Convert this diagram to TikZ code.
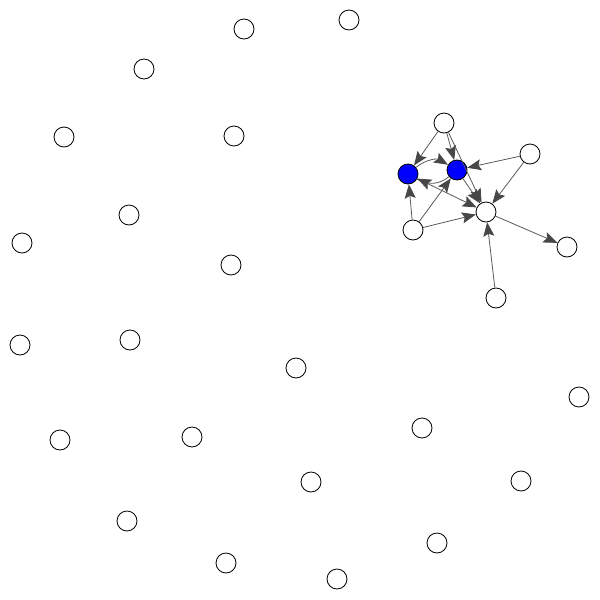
\documentclass[tikz,border=0pt]{standalone}
\usetikzlibrary{arrows.meta}
\begin{document}
\begin{tikzpicture}[x=1pt,y=-1pt,
  vtx/.style={circle,draw=black,line width=0.8pt,fill=white,minimum size=20pt,inner sep=0pt},
  bvtx/.style={vtx,fill=blue},
  tip/.tip={Stealth[length=14pt,width=11pt,inset=2.5pt,color=black!72]},
  edge/.style={draw=black!65,line width=0.8pt,-tip},
  plain/.style={draw=black!65,line width=0.8pt}]
\useasboundingbox (0,0) rectangle (600,600);
% isolated vertices
\node[vtx] (i1) at (349,20) {};
\node[vtx] (i2) at (244,29) {};
\node[vtx] (i3) at (144,69) {};
\node[vtx] (i4) at (64,137) {};
\node[vtx] (i5) at (234,136) {};
\node[vtx] (i6) at (129,215) {};
\node[vtx] (i7) at (22,243) {};
\node[vtx] (i8) at (231,265) {};
\node[vtx] (i9) at (20,345) {};
\node[vtx] (i10) at (130,340) {};
\node[vtx] (i11) at (296,368) {};
\node[vtx] (i12) at (579,397) {};
\node[vtx] (i13) at (60,440) {};
\node[vtx] (i14) at (192,437) {};
\node[vtx] (i15) at (422,428) {};
\node[vtx] (i16) at (311,482) {};
\node[vtx] (i17) at (521,481) {};
\node[vtx] (i18) at (127,521) {};
\node[vtx] (i19) at (437,543) {};
\node[vtx] (i20) at (226,563) {};
\node[vtx] (i21) at (337,579) {};
% cluster
\node[vtx] (T) at (444,123) {};
\node[bvtx] (L) at (408,174) {};
\node[bvtx] (R) at (457,170) {};
\node[vtx] (Q) at (530,154) {};
\node[vtx] (C) at (486,212) {};
\node[vtx] (W) at (413,230) {};
\node[vtx] (F) at (567,247) {};
\node[vtx] (B) at (496,298) {};
% edges
\draw[edge] (T) -- (L);
\draw[edge] (T) -- (R);
\draw[edge] (T) -- (C);
\draw[edge] (L) to[bend left=35] (R);
\draw[plain] (R) to[bend left=35] (L);
\draw[edge] (R) -- (C);
\draw[edge,tip-tip] (L) -- (C);
\draw[edge] (W) -- (L);
\draw[edge] (W) -- (R);
\draw[edge] (W) -- (C);
\draw[edge] (Q) -- (R);
\draw[edge] (Q) -- (C);
\draw[edge] (C) -- (F);
\draw[edge] (B) -- (C);
\end{tikzpicture}
\end{document}
